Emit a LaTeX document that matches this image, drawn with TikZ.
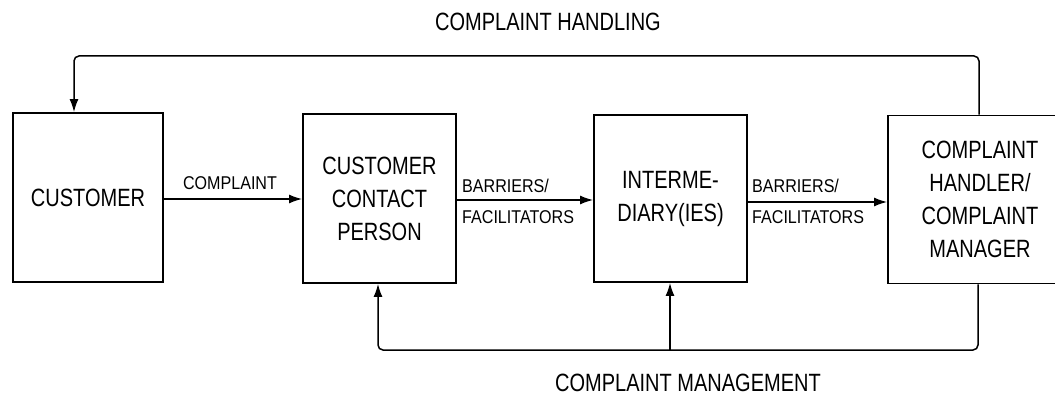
\documentclass[tikz,border=0pt]{standalone}
\usepackage{fontspec}
\setmainfont{Liberation Sans}
\newfontfamily\narrowbig[FakeStretch=0.8]{Liberation Sans}
\newfontfamily\narrowsmall[FakeStretch=0.87]{Liberation Sans}
\usetikzlibrary{arrows.meta,positioning,calc}

\tikzset{
  block/.style={draw, line width=1.8pt, rectangle, align=center,
    font=\narrowbig\fontsize{25}{33}\selectfont, inner sep=0pt},
  flow/.style={line width=1.5pt, -{Latex[length=13pt,width=9pt]}},
  loop/.style={line width=1.5pt, rounded corners=5pt},
  small/.style={font=\narrowsmall\fontsize{18.5}{20}\selectfont, inner sep=0pt},
  title/.style={font=\narrowbig\fontsize{25}{27}\selectfont, inner sep=0pt}
}

\begin{document}
\begin{tikzpicture}[x=1pt, y=-1pt]
  \useasboundingbox (0,0) rectangle (1055,396);
  \begin{scope}
    \clip (0,0) rectangle (1055,396);

    % the four stations of the complaint path
    \node[block, minimum width=150pt, minimum height=169pt] (cust) at (88,197.5) {CUSTOMER};
    \node[block, minimum width=153pt, minimum height=169pt] (ccp) at (379.5,198.5) {CUSTOMER\\CONTACT\\PERSON};
    \node[block, minimum width=153pt, minimum height=167pt] (inter) at (670.5,198.5) {INTERME-\\DIARY(IES)};
    \node[block, minimum width=184pt, minimum height=168pt] (hand) at (980,199.5) {COMPLAINT\\HANDLER/\\COMPLAINT\\MANAGER};

    % forward flow
    \draw[flow] (cust.east |- 0,199) -- (ccp.west |- 0,199);
    \node[small] (lc) at (230,183) {COMPLAINT};

    \draw[flow] (ccp.east |- 0,200) -- (inter.west |- 0,200);
    \node[small, anchor=west] (lb1) at (462,186) {BARRIERS/};
    \node[small, anchor=west] (lf1) at (462,217) {FACILITATORS};

    \draw[flow] (inter.east |- 0,202) -- (hand.west |- 0,202);
    \node[small, anchor=west] (lb2) at (752,186) {BARRIERS/};
    \node[small, anchor=west] (lf2) at (752,217) {FACILITATORS};

    % complaint handling loop over the top
    \coordinate (tr) at (979,56);
    \coordinate (tl) at (74,56);
    \draw[loop, -{Latex[length=13pt,width=9pt]}] (hand.north -| tr) -- (tr) -- (tl) -- (cust.north -| tl);
    \node[title] (th) at (548,22) {COMPLAINT HANDLING};

    % complaint management loop underneath
    \coordinate (br) at (978,350);
    \coordinate (bl) at (378,350);
    \coordinate (bm) at (670,350);
    \draw[loop, -{Latex[length=13pt,width=9pt]}] (hand.south -| br) -- (br) -- (bl) -- (ccp.south -| bl);
    \draw[flow] (bm) -- (inter.south -| bm);
    \node[title] (tm) at (688,383) {COMPLAINT MANAGEMENT};
  \end{scope}
\end{tikzpicture}
\end{document}
